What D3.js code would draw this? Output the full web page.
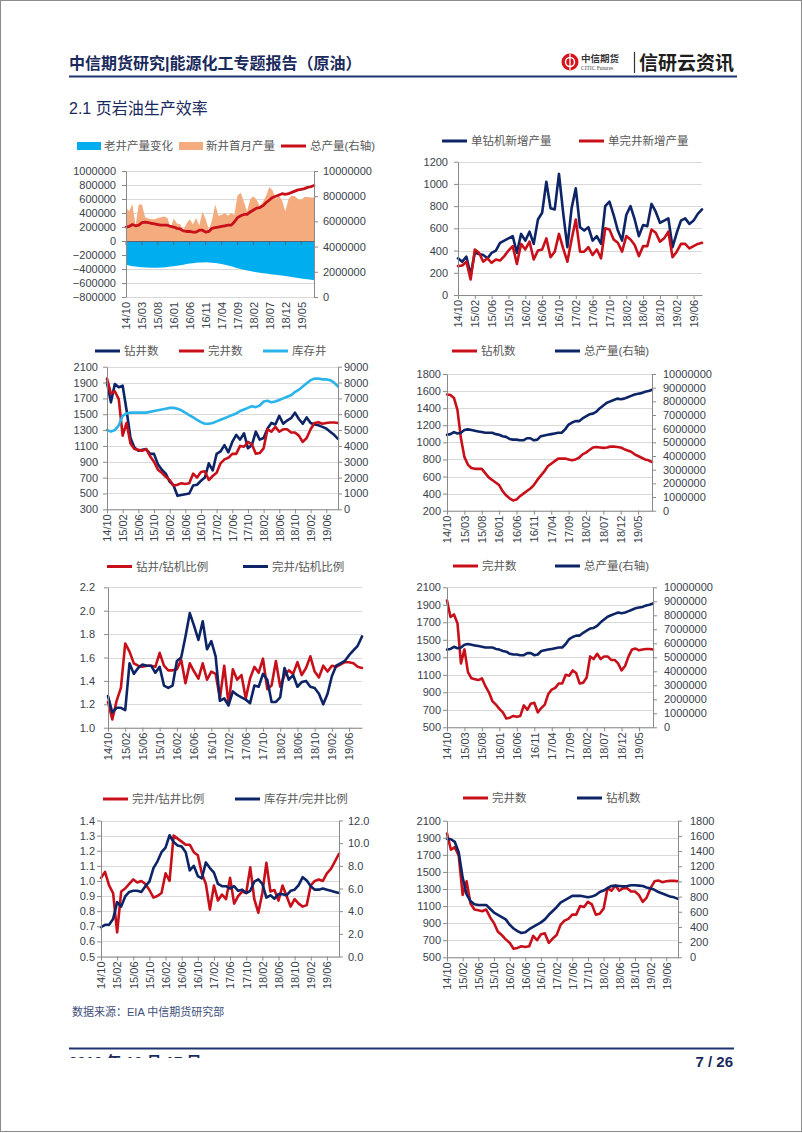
<!DOCTYPE html>
<html><head><meta charset="utf-8">
<script src="https://cdn.jsdelivr.net/npm/d3@7/dist/d3.min.js"></script>
<style>
body{margin:0;background:#fff;}
svg{display:block;font-family:"Liberation Sans","Noto Sans CJK SC",Arial,sans-serif;}
</style></head><body>
<svg id="page" width="802" height="1133"></svg>
<script>
// ---------- DATA ----------
const months = ["14/10","14/11","14/12","15/01","15/02","15/03","15/04","15/05","15/06","15/07","15/08","15/09","15/10","15/11","15/12",
"16/01","16/02","16/03","16/04","16/05","16/06","16/07","16/08","16/09","16/10","16/11","16/12",
"17/01","17/02","17/03","17/04","17/05","17/06","17/07","17/08","17/09","17/10","17/11","17/12",
"18/01","18/02","18/03","18/04","18/05","18/06","18/07","18/08","18/09","18/10","18/11","18/12",
"19/01","19/02","19/03","19/04","19/05","19/06","19/07","19/08","19/09"];

// chart 1
const legacyChange = [-340000,-350000,-360000,-365000,-370000,-375000,-378000,-380000,-382000,-383000,-383000,-380000,-377000,-372000,-366000,-360000,-352000,-345000,-338000,-330000,-323000,-317000,-312000,-308000,-306000,-305000,-306000,-310000,-315000,-320000,-328000,-338000,-350000,-362000,-375000,-388000,-400000,-410000,-420000,-430000,-438000,-446000,-453000,-460000,-466000,-472000,-477000,-482000,-488000,-494000,-500000,-507000,-514000,-521000,-528000,-535000,-542000,-548000,-554000,-560000];
const newWellProd = [470000,430000,530000,220000,520000,520000,340000,320000,310000,310000,330000,340000,350000,330000,190000,320000,250000,240000,160000,250000,310000,240000,330000,220000,420000,310000,160000,300000,520000,360000,370000,400000,360000,400000,370000,650000,690000,560000,420000,600000,640000,590000,500000,560000,650000,770000,720000,600000,650000,580000,420000,600000,650000,640000,600000,590000,630000,630000,620000,620000];
const totalProd = [5550000,5600000,5750000,5650000,5700000,5900000,5950000,5900000,5850000,5800000,5750000,5700000,5700000,5700000,5600000,5550000,5450000,5400000,5250000,5200000,5200000,5150000,5150000,5300000,5300000,5150000,5200000,5450000,5500000,5550000,5600000,5650000,5700000,5700000,5950000,6300000,6450000,6550000,6550000,6750000,6900000,7050000,7100000,7250000,7500000,7700000,7900000,8000000,8100000,8200000,8150000,8200000,8300000,8400000,8500000,8550000,8600000,8700000,8750000,8850000];

// chart 2
const newProdPerRig = [330,300,345,180,380,370,360,330,380,400,470,490,510,530,380,550,490,570,460,680,740,1020,780,770,1090,740,430,780,960,610,580,610,490,530,460,800,840,720,580,490,720,800,680,530,630,620,820,750,650,670,690,430,560,670,690,640,670,730,770];
const newProdPerWell = [260,265,300,140,410,380,300,330,290,320,310,350,400,440,280,460,410,480,320,400,410,510,340,390,550,420,300,500,680,390,390,430,360,410,330,600,590,500,470,390,530,500,450,350,440,440,590,560,480,510,570,340,390,460,460,420,440,460,470];

// wells & rigs
const drilled = [1900,1650,1880,1840,1860,1550,1200,1080,1040,1050,1060,1000,1000,870,800,750,650,600,470,480,490,500,600,610,660,700,880,790,1000,1030,1110,1020,1150,1240,1180,1260,1070,1110,1280,1180,1200,1320,1390,1370,1480,1380,1420,1450,1520,1440,1380,1460,1390,1370,1360,1340,1320,1280,1240,1190];
const completed = [1950,1760,1790,1690,1230,1390,1130,1060,1050,1040,1060,970,900,800,760,710,670,600,610,630,620,630,750,700,770,780,670,720,760,880,930,950,1000,1000,1100,1090,1150,1120,1000,1010,1070,1310,1280,1340,1280,1310,1310,1270,1270,1230,1150,1200,1310,1390,1400,1380,1390,1395,1395,1390];
const duc = [5000,4900,5000,5300,5900,6050,6100,6100,6100,6100,6100,6150,6200,6250,6300,6350,6400,6400,6350,6250,6100,5950,5800,5650,5500,5400,5400,5450,5550,5650,5750,5850,5950,6050,6200,6300,6400,6500,6450,6550,6800,6850,6750,6800,6900,7000,7100,7200,7400,7550,7750,7950,8150,8250,8250,8200,8200,8150,8000,7750];
const rigs = [1560,1555,1520,1380,1050,830,740,700,690,690,690,640,590,560,530,500,430,380,345,320,330,370,400,430,460,500,560,610,660,720,750,780,810,810,810,800,790,800,820,860,880,910,940,945,940,935,940,950,950,945,940,920,905,890,860,840,820,800,790,770];

// ratios
const drilledPerRig = [1.22,1.07,1.23,1.34,1.72,1.65,1.55,1.53,1.52,1.53,1.53,1.52,1.64,1.53,1.49,1.49,1.50,1.58,1.38,1.55,1.48,1.42,1.55,1.41,1.48,1.46,1.25,1.53,1.20,1.50,1.41,1.45,1.25,1.42,1.52,1.47,1.59,1.33,1.36,1.57,1.35,1.45,1.49,1.46,1.56,1.45,1.51,1.61,1.48,1.43,1.53,1.48,1.53,1.52,1.54,1.56,1.56,1.55,1.52,1.51];
const completedPerRig = [1.27,1.13,1.17,1.17,1.15,1.55,1.46,1.51,1.54,1.53,1.53,1.47,1.52,1.36,1.34,1.36,1.57,1.60,1.78,1.98,1.87,1.75,1.91,1.67,1.74,1.61,1.23,1.25,1.19,1.31,1.28,1.26,1.24,1.21,1.36,1.35,1.46,1.41,1.22,1.22,1.26,1.51,1.41,1.45,1.35,1.39,1.40,1.35,1.34,1.29,1.20,1.29,1.44,1.53,1.55,1.57,1.62,1.66,1.70,1.78];
const completedPerDrilled = [1.02,1.06,0.97,0.92,0.66,0.93,0.95,0.98,1.01,0.99,1.00,0.98,0.94,0.89,0.90,0.92,1.05,1.00,1.30,1.28,1.26,1.24,1.24,1.19,1.17,1.05,0.98,0.81,0.97,0.87,0.91,0.88,1.02,0.85,0.90,0.93,0.92,1.09,0.88,0.79,0.92,1.12,0.93,0.94,0.87,0.97,0.90,0.83,0.88,0.85,0.83,0.84,0.97,1.00,1.01,1.00,1.05,1.08,1.13,1.18];
const ducPerCompleted = [2.6,2.8,2.8,3.3,4.8,4.4,5.3,5.7,5.8,5.8,5.7,6.2,6.6,7.8,8.4,9.2,9.6,10.7,10.1,9.8,9.7,9.2,7.6,8.0,7.1,6.9,8.3,7.8,7.4,6.4,6.2,6.2,6.0,6.2,5.8,5.9,5.6,5.8,6.6,6.8,6.4,5.2,5.4,5.1,5.5,5.5,5.4,5.8,5.9,6.3,7.0,6.7,6.2,5.9,5.9,6.0,5.9,5.8,5.7,5.6];

// axis tick values
const ticksC1L = [-800000,-600000,-400000,-200000,0,200000,400000,600000,800000,1000000];
const ticksC1R = [0,2000000,4000000,6000000,8000000,10000000];
const ticksC2L = [0,200,400,600,800,1000,1200];
const ticksWells = [300,500,700,900,1100,1300,1500,1700,1900,2100];
const ticksDuc = [0,1000,2000,3000,4000,5000,6000,7000,8000,9000];
const ticksRigsL = [200,400,600,800,1000,1200,1400,1600,1800];
const ticksProdR = [0,1000000,2000000,3000000,4000000,5000000,6000000,7000000,8000000,9000000,10000000];
const ticksRatio = [1.0,1.2,1.4,1.6,1.8,2.0,2.2];
const ticksComp = [500,700,900,1100,1300,1500,1700,1900,2100];
const ticksC7L = [0.5,0.6,0.7,0.8,0.9,1.0,1.1,1.2,1.3,1.4];
const ticksC7R = [0,2,4,6,8,10,12];
const ticksRigsR = [0,200,400,600,800,1000,1200,1400,1600,1800];

// ---------- STYLE ----------
const NAVY = "#0d2566", RED = "#c8101a", LBLUE = "#2ab4ea", ABLUE = "#00aeef", ORANGE = "#f4ac7e";
const AXIS = "#8a8a8a", GRID = "#d9d9d9", TXT = "#3a3f4c", LEG = "#595959";

const svg = d3.select("#page");
svg.append("rect").attr("x",0.5).attr("y",0.5).attr("width",801).attr("height",1131)
  .attr("fill","#fff").attr("stroke","#8c8c8c");

// header
svg.append("text").attr("x",69).attr("y",69).attr("font-size",16).attr("font-weight",600)
  .attr("fill","#1b2a5c").text("中信期货研究|能源化工专题报告（原油）");
svg.append("line").attr("x1",69).attr("x2",737).attr("y1",76.5).attr("y2",76.5)
  .attr("stroke","#1f3370").attr("stroke-width",2);
// logo
const logo = svg.append("g");
logo.append("circle").attr("cx",570).attr("cy",62).attr("r",8.5).attr("fill","#d7141c");
logo.append("circle").attr("cx",570).attr("cy",62).attr("r",4.5).attr("fill","none").attr("stroke","#fff").attr("stroke-width",1.5);
logo.append("line").attr("x1",570).attr("x2",570).attr("y1",54).attr("y2",70).attr("stroke","#fff").attr("stroke-width",1.3);
logo.append("text").attr("x",581).attr("y",62).attr("font-size",9.5).attr("font-weight",700).attr("fill","#333").text("中信期货");
logo.append("text").attr("x",581).attr("y",70).attr("font-size",5.5).attr("fill","#444").attr("font-family","Liberation Serif").text("CITIC Futures");
logo.append("line").attr("x1",634.5).attr("x2",634.5).attr("y1",52).attr("y2",73).attr("stroke","#333").attr("stroke-width",1.2);
logo.append("text").attr("x",639).attr("y",70).attr("font-size",19).attr("font-weight",700).attr("fill","#1d1d1d").text("信研云资讯");

// section title
svg.append("text").attr("x",69).attr("y",114).attr("font-size",16).attr("fill","#1b2a5c").text("2.1 页岩油生产效率");

// footer
svg.append("text").attr("x",72).attr("y",1016).attr("font-size",11).attr("fill","#3e4f7c").text("数据来源：EIA 中信期货研究部");
svg.append("line").attr("x1",69).attr("x2",734).attr("y1",1048.5).attr("y2",1048.5).attr("stroke","#1f3370").attr("stroke-width",2);
svg.append("clipPath").attr("id","dateclip").append("rect").attr("x",60).attr("y",1051).attr("width",200).attr("height",7);
svg.append("text").attr("x",69).attr("y",1067).attr("font-size",15).attr("font-weight",700).attr("fill","#1b2a5c")
  .attr("clip-path","url(#dateclip)").text("2019 年 10 月 17 日");
svg.append("text").attr("x",733).attr("y",1067).attr("text-anchor","end").attr("font-size",15).attr("font-weight",700)
  .attr("fill","#1b2a5c").text("7 / 26");

// ---------- CHART FUNCTION ----------
function drawChart(c){
  const g = svg.append("g");
  const x = d3.scalePoint().domain(d3.range(c.n)).range([c.x0, c.x1]);
  const yL = d3.scaleLinear().domain(c.left.domain).range([c.yBot, c.yTop]);
  const yR = c.right ? d3.scaleLinear().domain(c.right.domain).range([c.yBot, c.yTop]) : null;

  // gridlines
  g.append("g").selectAll("line").data(c.left.ticks).join("line")
    .attr("x1", c.x0).attr("x2", c.x1)
    .attr("y1", d => Math.round(yL(d))+0.5).attr("y2", d => Math.round(yL(d))+0.5)
    .attr("stroke", GRID).attr("stroke-width", 1);

  // series
  c.series.forEach(s => {
    const y = s.axis === "right" ? yR : yL;
    const data = s.values.slice(0, c.n);
    if (s.type === "area") {
      g.append("path").datum(data).attr("fill", s.color)
        .attr("d", d3.area().x((d,i) => x(i)).y0(y(0)).y1(d => y(d)));
    } else {
      g.append("path").datum(data).attr("fill","none").attr("stroke", s.color)
        .attr("stroke-width", s.width || 2.6).attr("stroke-linejoin","round").attr("stroke-linecap","round")
        .attr("d", d3.line().x((d,i) => x(i)).y(d => y(d)));
    }
  });

  if (c.zeroLine) {
    g.append("line").attr("x1", c.x0).attr("x2", c.x1)
      .attr("y1", Math.round(yL(0))+0.5).attr("y2", Math.round(yL(0))+0.5)
      .attr("stroke", "#5a6070").attr("stroke-width", 1.2);
    g.append("g").selectAll("line").data(d3.range(0, c.n, c.step)).join("line")
      .attr("x1", d => x(d)).attr("x2", d => x(d))
      .attr("y1", Math.round(yL(0))).attr("y2", Math.round(yL(0))+4).attr("stroke","#5a6070");
  }

  const styleAxis = sel => {
    sel.selectAll(".domain").attr("stroke", AXIS);
    sel.selectAll(".tick line").attr("stroke", AXIS);
    sel.selectAll("text").attr("fill", TXT).attr("font-size", 11)
      .attr("font-family", '"Liberation Sans", Arial, sans-serif');
  };

  // x axis
  const xa = g.append("g").attr("transform", `translate(0,${c.yBot})`)
    .call(d3.axisBottom(x).tickValues(d3.range(0, c.n, c.step)).tickFormat(i => months[i])
      .tickSize(c.zeroLine ? 0 : 4).tickSizeOuter(0));
  styleAxis(xa);
  if (c.zeroLine) xa.select(".domain").attr("stroke", GRID);
  xa.selectAll("text").attr("transform","rotate(-90)").attr("text-anchor","end")
    .attr("x", -5).attr("y", 0).attr("dy","0.35em");

  // left axis
  const la = g.append("g").attr("transform", `translate(${c.x0},0)`)
    .call(d3.axisLeft(yL).tickValues(c.left.ticks).tickFormat(c.left.fmt || d3.format("d"))
      .tickSize(4).tickSizeOuter(0).tickPadding(c.left.pad || 4));
  styleAxis(la);

  if (c.right) {
    const ra = g.append("g").attr("transform", `translate(${c.x1},0)`)
      .call(d3.axisRight(yR).tickValues(c.right.ticks).tickFormat(c.right.fmt || d3.format("d"))
        .tickSize(4).tickSizeOuter(0).tickPadding(c.right.pad || 4));
    styleAxis(ra);
  }

  // legend
  c.legend.forEach(l => {
    if (l.type === "rect") {
      g.append("rect").attr("x", l.x).attr("y", c.legendY - 4).attr("width", 24).attr("height", 8).attr("fill", l.color);
      g.append("text").attr("x", l.x + 27).attr("y", c.legendY + 4).attr("font-size", 11.5).attr("fill", LEG).text(l.label);
    } else {
      g.append("line").attr("x1", l.x).attr("x2", l.x + 25).attr("y1", c.legendY).attr("y2", c.legendY)
        .attr("stroke", l.color).attr("stroke-width", 3);
      g.append("text").attr("x", l.x + 29).attr("y", c.legendY + 4).attr("font-size", 11.5).attr("fill", LEG).text(l.label);
    }
  });
}

const f1 = d3.format(".1f");

// Chart 1
drawChart({n:60, step:5, x0:126, x1:314, yTop:171, yBot:297, zeroLine:true,
  left:{domain:[-800000,1000000], ticks:ticksC1L, pad:6},
  right:{domain:[0,10000000], ticks:ticksC1R, pad:5},
  series:[
    {type:"area", values:newWellProd, color:ORANGE},
    {type:"area", values:legacyChange, color:ABLUE},
    {type:"line", values:totalProd, color:RED, axis:"right", width:2.8}],
  legendY:146,
  legend:[{type:"rect",x:77,color:ABLUE,label:"老井产量变化"},
          {type:"rect",x:179,color:ORANGE,label:"新井首月产量"},
          {type:"line",x:281,color:RED,label:"总产量(右轴)"}]});

// Chart 2
drawChart({n:59, step:4, x0:458, x1:702, yTop:161.7, yBot:295,
  left:{domain:[0,1200], ticks:ticksC2L, pad:6},
  series:[
    {type:"line", values:newProdPerRig, color:NAVY},
    {type:"line", values:newProdPerWell, color:RED}],
  legendY:141,
  legend:[{type:"line",x:442,color:NAVY,label:"单钻机新增产量"},
          {type:"line",x:579,color:RED,label:"单完井新增产量"}]});

// Chart 3
drawChart({n:60, step:4, x0:107, x1:338, yTop:366.7, yBot:509.3,
  left:{domain:[300,2100], ticks:ticksWells, pad:5},
  right:{domain:[0,9000], ticks:ticksDuc, pad:2},
  series:[
    {type:"line", values:drilled, color:NAVY},
    {type:"line", values:completed, color:RED},
    {type:"line", values:duc, color:LBLUE, axis:"right"}],
  legendY:351,
  legend:[{type:"line",x:95,color:NAVY,label:"钻井数"},
          {type:"line",x:179,color:RED,label:"完井数"},
          {type:"line",x:263,color:LBLUE,label:"库存井"}]});

// Chart 4
drawChart({n:60, step:5, x0:447, x1:652, yTop:374, yBot:510.7,
  left:{domain:[200,1800], ticks:ticksRigsL, pad:2},
  right:{domain:[0,10000000], ticks:ticksProdR, pad:7},
  series:[
    {type:"line", values:rigs, color:RED},
    {type:"line", values:totalProd, color:NAVY, axis:"right"}],
  legendY:351,
  legend:[{type:"line",x:452,color:RED,label:"钻机数"},
          {type:"line",x:555,color:NAVY,label:"总产量(右轴)"}]});

// Chart 5
drawChart({n:60, step:4, x0:108, x1:362, yTop:587.3, yBot:727.7,
  left:{domain:[1.0,2.2], ticks:ticksRatio, fmt:f1, pad:9},
  series:[
    {type:"line", values:drilledPerRig, color:RED},
    {type:"line", values:completedPerRig, color:NAVY}],
  legendY:566.5,
  legend:[{type:"line",x:107,color:RED,label:"钻井/钻机比例"},
          {type:"line",x:243,color:NAVY,label:"完井/钻机比例"}]});

// Chart 6
drawChart({n:60, step:5, x0:447, x1:653, yTop:587.3, yBot:727.3,
  left:{domain:[500,2100], ticks:ticksComp, pad:2},
  right:{domain:[0,10000000], ticks:ticksProdR, pad:7},
  series:[
    {type:"line", values:completed, color:RED},
    {type:"line", values:totalProd, color:NAVY, axis:"right"}],
  legendY:566,
  legend:[{type:"line",x:453,color:RED,label:"完井数"},
          {type:"line",x:555,color:NAVY,label:"总产量(右轴)"}]});

// Chart 7
drawChart({n:60, step:4, x0:101, x1:339, yTop:820.5, yBot:956.5,
  left:{domain:[0.5,1.4], ticks:ticksC7L, fmt:f1, pad:2},
  right:{domain:[0,12], ticks:ticksC7R, fmt:f1, pad:5},
  series:[
    {type:"line", values:completedPerDrilled, color:RED},
    {type:"line", values:ducPerCompleted, color:NAVY, axis:"right"}],
  legendY:799,
  legend:[{type:"line",x:103,color:RED,label:"完井/钻井比例"},
          {type:"line",x:235,color:NAVY,label:"库存井/完井比例"}]});

// Chart 8
drawChart({n:60, step:4, x0:447, x1:678, yTop:820.7, yBot:957.3,
  left:{domain:[500,2100], ticks:ticksComp, pad:2},
  right:{domain:[0,1800], ticks:ticksRigsR, pad:8},
  series:[
    {type:"line", values:completed, color:RED},
    {type:"line", values:rigs, color:NAVY, axis:"right"}],
  legendY:798,
  legend:[{type:"line",x:463,color:RED,label:"完井数"},
          {type:"line",x:577,color:NAVY,label:"钻机数"}]});
</script>
</body></html>
